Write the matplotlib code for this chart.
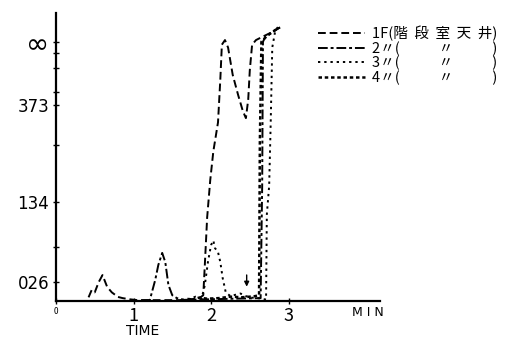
import matplotlib
matplotlib.use("Agg")
import matplotlib.pyplot as plt

plt.rcParams['font.family'] = ['Noto Sans CJK JP', 'DejaVu Sans']

# Smoke detector readings (deflection, 0-100) against time in minutes
t_1f = [0.00, 0.40, 0.46, 0.50, 0.55, 0.60, 0.66, 0.72, 0.80, 0.86, 0.95, 1.05,
        1.60, 1.70, 1.80, 1.86, 1.90, 1.92, 1.95, 1.99, 2.03, 2.09, 2.12, 2.14,
        2.18, 2.22, 2.28, 2.35, 2.41, 2.45, 2.48, 2.50, 2.53, 2.58, 2.66, 2.76, 2.89]
v_1f = [0.0, 0.0, 3.8, 3.0, 6.5, 9.0, 4.9, 3.0, 1.4, 1.0, 0.6, 0.3,
        0.3, 0.8, 0.5, 1.2, 2.0, 12.5, 29.0, 42.0, 52.0, 62.0, 77.0, 89.0,
        90.6, 88.0, 78.5, 71.5, 66.0, 63.5, 70.0, 80.0, 89.0, 90.6, 91.7, 93.0, 95.0]

t_2f = [1.10, 1.21, 1.28, 1.32, 1.37, 1.41, 1.45, 1.50, 1.56, 1.65, 2.00,
        2.30, 2.64, 2.66, 2.67, 2.70, 2.80, 2.89]
v_2f = [0.2, 0.3, 7.3, 12.5, 16.7, 13.5, 5.6, 2.0, 1.0, 0.4, 0.6,
        0.8, 1.0, 40.0, 90.0, 91.7, 93.5, 95.0]

t_3f = [1.70, 1.80, 1.88, 1.92, 1.96, 2.00, 2.03, 2.05, 2.09, 2.12, 2.15,
        2.19, 2.25, 2.32, 2.38, 2.44, 2.50, 2.60, 2.71, 2.72, 2.75, 2.77,
        2.79, 2.83, 2.89]
v_3f = [0.5, 1.5, 1.0, 5.5, 13.5, 19.4, 21.0, 18.4, 17.0, 13.5, 8.0,
        3.0, 1.7, 2.2, 2.6, 1.8, 1.2, 1.0, 0.5, 30.0, 40.0, 62.0,
        88.0, 94.0, 96.0]

t_4f = [1.75, 1.85, 1.95, 2.10, 2.25, 2.40, 2.55, 2.62, 2.63, 2.65, 2.72, 2.85]
v_4f = [0.4, 1.2, 0.8, 1.0, 1.5, 1.3, 1.6, 2.0, 55.0, 90.0, 92.0, 94.5]

arrow_t = 2.46
arrow_from, arrow_to = 10.0, 4.0

ytick_pos = [6.6, 34.4, 68.0, 89.9]
ytick_lab = ['026', '134', '373', '∞']
yminor_pos = [18.8, 54.0, 72.6, 81.0, 86.0]

xtick_pos = [0, 1, 2, 3]
xtick_lab = ['0', '1', '2', '3']

labels = ['1F(階  段  室  天  井)', '2〃(　　   〃　　   )', '3〃(　　   〃　　   )',
          '4〃(　　   〃　　   )']

fig = plt.figure(figsize=(5.13, 3.38), dpi=100)
ax = fig.add_axes([56 / 513, 37 / 338, 324 / 513, 288 / 338])
ax.set_xlim(0, 4.18)
ax.set_ylim(0, 100)

k = dict(color='black', lw=1.4)
l1, = ax.plot(t_1f, v_1f, linestyle=(0, (4, 2)), **k)
l2, = ax.plot(t_2f, v_2f, linestyle=(0, (5, 1.5, 1.5, 1.5)), **k)
l3, = ax.plot(t_3f, v_3f, linestyle=(0, (1.2, 2.0)), **k)
l4, = ax.plot(t_4f, v_4f, linestyle=(0, (1.4, 1.1)), color='black', lw=1.8)

ax.annotate('', xy=(arrow_t, arrow_to), xytext=(arrow_t, arrow_from),
            arrowprops=dict(arrowstyle='-|>', color='black', lw=1.0,
                            mutation_scale=7))

for s in ('top', 'right'):
    ax.spines[s].set_visible(False)
for s in ('left', 'bottom'):
    ax.spines[s].set_linewidth(1.6)

ax.set_yticks(ytick_pos)
ax.set_yticklabels(ytick_lab)
ax.set_yticks(yminor_pos, minor=True)
ax.tick_params(axis='y', which='both', direction='inout', length=4, width=1,
               labelsize=12, pad=3)
for lab in ax.get_yticklabels():
    lab.set_family('DejaVu Sans Condensed')
ax.get_yticklabels()[-1].set_fontsize(20)

ax.set_xticks(xtick_pos)
ax.set_xticklabels(xtick_lab)
ax.tick_params(axis='x', direction='inout', length=4, width=1, labelsize=13, pad=2)
ax.get_xticklabels()[0].set_fontsize(6)

fig.text(143 / 513, 1 - 331 / 338, 'TIME', ha='center', va='center', fontsize=10,
         family='DejaVu Sans')
fig.text(368 / 513, 1 - 312 / 338, 'M I N', ha='center', va='center', fontsize=9,
         family='DejaVu Sans')

fig.legend([l1, l2, l3, l4], labels, loc='upper left',
           bbox_to_anchor=(318 / 513, 1 - 26 / 338), frameon=False,
           fontsize=10.5, handlelength=3.2, handletextpad=0.5, labelspacing=0.0,
           borderpad=0, borderaxespad=0)

fig.savefig('out.png', dpi=100)
